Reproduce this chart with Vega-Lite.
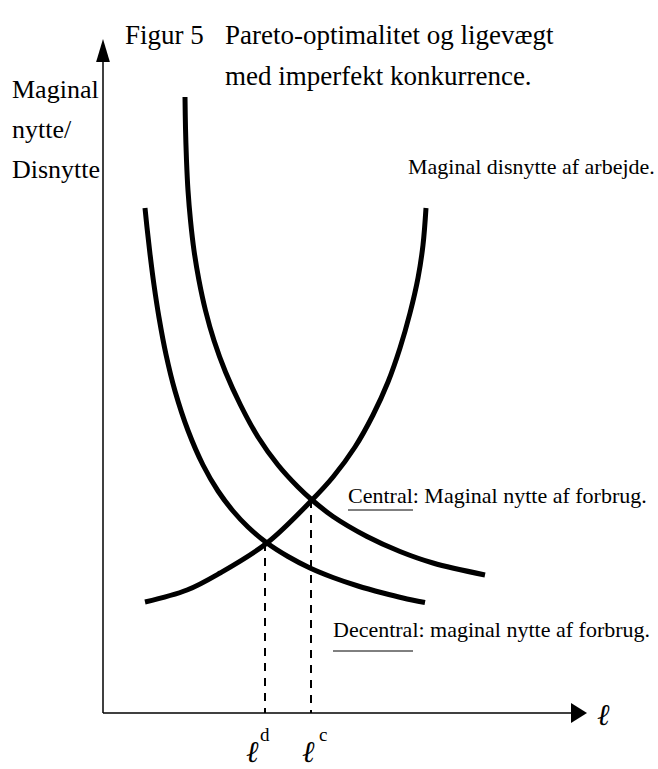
{
  "$schema": "https://vega.github.io/schema/vega-lite/v6.json",
  "width": 658,
  "height": 769,
  "autosize": {"type": "none"},
  "padding": 0,
  "background": "white",
  "config": {"view": {"stroke": null}},
  "datasets": {
    "curves": [
      {"series": "Central", "x": 16.4, "y": 123.2},
      {"series": "Central", "x": 16.5, "y": 117.0},
      {"series": "Central", "x": 16.7, "y": 110.5},
      {"series": "Central", "x": 17.0, "y": 104.5},
      {"series": "Central", "x": 17.5, "y": 98.5},
      {"series": "Central", "x": 18.2, "y": 92.5},
      {"series": "Central", "x": 19.2, "y": 86.5},
      {"series": "Central", "x": 20.5, "y": 80.5},
      {"series": "Central", "x": 22.2, "y": 74.5},
      {"series": "Central", "x": 24.5, "y": 68.2},
      {"series": "Central", "x": 27.5, "y": 61.6},
      {"series": "Central", "x": 31.0, "y": 55.2},
      {"series": "Central", "x": 35.0, "y": 49.6},
      {"series": "Central", "x": 39.0, "y": 45.2},
      {"series": "Central", "x": 41.8, "y": 42.6},
      {"series": "Central", "x": 46.0, "y": 39.3},
      {"series": "Central", "x": 52.8, "y": 35.3},
      {"series": "Central", "x": 59.4, "y": 32.3},
      {"series": "Central", "x": 66.0, "y": 30.0},
      {"series": "Central", "x": 76.4, "y": 27.6},
      {"series": "Decentral", "x": 8.4, "y": 101.0},
      {"series": "Decentral", "x": 8.8, "y": 97.1},
      {"series": "Decentral", "x": 9.4, "y": 91.8},
      {"series": "Decentral", "x": 10.2, "y": 85.6},
      {"series": "Decentral", "x": 11.2, "y": 79.1},
      {"series": "Decentral", "x": 12.6, "y": 71.7},
      {"series": "Decentral", "x": 14.4, "y": 64.4},
      {"series": "Decentral", "x": 17.0, "y": 56.5},
      {"series": "Decentral", "x": 20.0, "y": 49.6},
      {"series": "Decentral", "x": 23.0, "y": 44.4},
      {"series": "Decentral", "x": 26.0, "y": 40.4},
      {"series": "Decentral", "x": 29.0, "y": 37.2},
      {"series": "Decentral", "x": 32.8, "y": 34.0},
      {"series": "Decentral", "x": 37.0, "y": 31.3},
      {"series": "Decentral", "x": 41.4, "y": 29.0},
      {"series": "Decentral", "x": 46.0, "y": 27.1},
      {"series": "Decentral", "x": 51.0, "y": 25.4},
      {"series": "Decentral", "x": 56.0, "y": 24.0},
      {"series": "Decentral", "x": 60.0, "y": 23.0},
      {"series": "Decentral", "x": 64.4, "y": 22.1},
      {"series": "Disnytte", "x": 8.4, "y": 22.2},
      {"series": "Disnytte", "x": 16.8, "y": 24.6},
      {"series": "Disnytte", "x": 23.4, "y": 28.0},
      {"series": "Disnytte", "x": 32.8, "y": 34.0},
      {"series": "Disnytte", "x": 41.8, "y": 42.6},
      {"series": "Disnytte", "x": 46.0, "y": 47.2},
      {"series": "Disnytte", "x": 50.4, "y": 53.2},
      {"series": "Disnytte", "x": 54.0, "y": 59.6},
      {"series": "Disnytte", "x": 57.0, "y": 66.2},
      {"series": "Disnytte", "x": 59.4, "y": 73.0},
      {"series": "Disnytte", "x": 61.4, "y": 80.0},
      {"series": "Disnytte", "x": 63.0, "y": 87.0},
      {"series": "Disnytte", "x": 64.0, "y": 93.6},
      {"series": "Disnytte", "x": 64.6, "y": 101.0}
    ],
    "segs": [
      {"kind": "axis", "x": 0, "y": 0, "x2": 0, "y2": 130.2},
      {"kind": "axis", "x": 0, "y": 0, "x2": 93.6, "y2": 0},
      {"kind": "dash", "x": 32.4, "y": 34.0, "x2": 32.4, "y2": 0},
      {"kind": "dash", "x": 41.6, "y": 42.6, "x2": 41.6, "y2": 0},
      {"kind": "underline", "x": 49.0, "y": 40.6, "x2": 62.0, "y2": 40.6},
      {"kind": "underline", "x": 46.0, "y": 12.4, "x2": 62.0, "y2": 12.4}
    ],
    "arrows": [
      {"axis": "y", "x": 0, "y": 132.5},
      {"axis": "x", "x": 95.2, "y": 0}
    ],
    "texts": [
      {"role": "title", "x": 4.4, "y": 133.8, "text": "Figur 5"},
      {"role": "title", "x": 24.4, "y": 133.8, "text": "Pareto-optimalitet og ligevægt"},
      {"role": "title", "x": 24.4, "y": 125.6, "text": "med imperfekt konkurrence."},
      {"role": "ylabel", "x": -18.2, "y": 123.0, "text": "Maginal"},
      {"role": "ylabel", "x": -18.2, "y": 115.0, "text": "nytte/"},
      {"role": "ylabel", "x": -18.2, "y": 107.0, "text": "Disnytte"},
      {"role": "label", "x": 61.0, "y": 107.8, "text": "Maginal disnytte af arbejde."},
      {"role": "label", "x": 49.0, "y": 42.0, "text": "Central: Maginal nytte af forbrug."},
      {"role": "label", "x": 46.0, "y": 15.2, "text": "Decentral: maginal nytte af forbrug."},
      {"role": "ell", "x": 98.8, "y": -2.4, "text": "ℓ"},
      {"role": "ell", "x": 28.6, "y": -9.8, "text": "ℓ"},
      {"role": "ell", "x": 39.8, "y": -9.8, "text": "ℓ"},
      {"role": "sup", "x": 31.4, "y": -5.6, "text": "d"},
      {"role": "sup", "x": 43.2, "y": -5.6, "text": "c"}
    ]
  },
  "encoding": {
    "x": {"field": "x", "type": "quantitative", "scale": {"domain": [-20.6, 111], "nice": false, "zero": false}, "axis": null},
    "y": {"field": "y", "type": "quantitative", "scale": {"domain": [-11.2, 142.6], "nice": false, "zero": false}, "axis": null}
  },
  "layer": [
    {
      "data": {"name": "segs"},
      "transform": [{"filter": "datum.kind === 'axis'"}],
      "mark": {"type": "rule", "color": "black", "strokeWidth": 1.5},
      "encoding": {"x2": {"field": "x2"}, "y2": {"field": "y2"}}
    },
    {
      "data": {"name": "segs"},
      "transform": [{"filter": "datum.kind === 'dash'"}],
      "mark": {"type": "rule", "color": "black", "strokeWidth": 2, "strokeDash": [8, 7]},
      "encoding": {"x2": {"field": "x2"}, "y2": {"field": "y2"}}
    },
    {
      "data": {"name": "segs"},
      "transform": [{"filter": "datum.kind === 'underline'"}],
      "mark": {"type": "rule", "color": "black", "strokeWidth": 1},
      "encoding": {"x2": {"field": "x2"}, "y2": {"field": "y2"}}
    },
    {
      "data": {"name": "curves"},
      "mark": {"type": "line", "color": "black", "strokeWidth": 5, "interpolate": "catmull-rom"},
      "encoding": {"detail": {"field": "series", "type": "nominal"}}
    },
    {
      "data": {"name": "arrows"},
      "transform": [{"filter": "datum.axis === 'y'"}],
      "mark": {"type": "point", "shape": "M0,-1L0.6,1L-0.6,1Z", "size": 529, "filled": true, "color": "black", "opacity": 1}
    },
    {
      "data": {"name": "arrows"},
      "transform": [{"filter": "datum.axis === 'x'"}],
      "mark": {"type": "point", "shape": "M1,0L-1,-1.25L-1,1.25Z", "size": 256, "filled": true, "color": "black", "opacity": 1}
    },
    {
      "data": {"name": "texts"},
      "transform": [{"filter": "datum.role === 'title'"}],
      "mark": {"type": "text", "font": "Liberation Serif", "fontSize": 27, "align": "left", "baseline": "alphabetic", "color": "black"},
      "encoding": {"text": {"field": "text"}}
    },
    {
      "data": {"name": "texts"},
      "transform": [{"filter": "datum.role === 'ylabel'"}],
      "mark": {"type": "text", "font": "Liberation Serif", "fontSize": 26, "align": "left", "baseline": "alphabetic", "color": "black"},
      "encoding": {"text": {"field": "text"}}
    },
    {
      "data": {"name": "texts"},
      "transform": [{"filter": "datum.role === 'label'"}],
      "mark": {"type": "text", "font": "Liberation Serif", "fontSize": 22, "align": "left", "baseline": "alphabetic", "color": "black"},
      "encoding": {"text": {"field": "text"}}
    },
    {
      "data": {"name": "texts"},
      "transform": [{"filter": "datum.role === 'ell'"}],
      "mark": {"type": "text", "font": "DejaVu Serif", "fontSize": 30, "fontStyle": "italic", "align": "left", "baseline": "alphabetic", "color": "black"},
      "encoding": {"text": {"field": "text"}}
    },
    {
      "data": {"name": "texts"},
      "transform": [{"filter": "datum.role === 'sup'"}],
      "mark": {"type": "text", "font": "Liberation Serif", "fontSize": 19, "align": "left", "baseline": "alphabetic", "color": "black"},
      "encoding": {"text": {"field": "text"}}
    }
  ]
}
